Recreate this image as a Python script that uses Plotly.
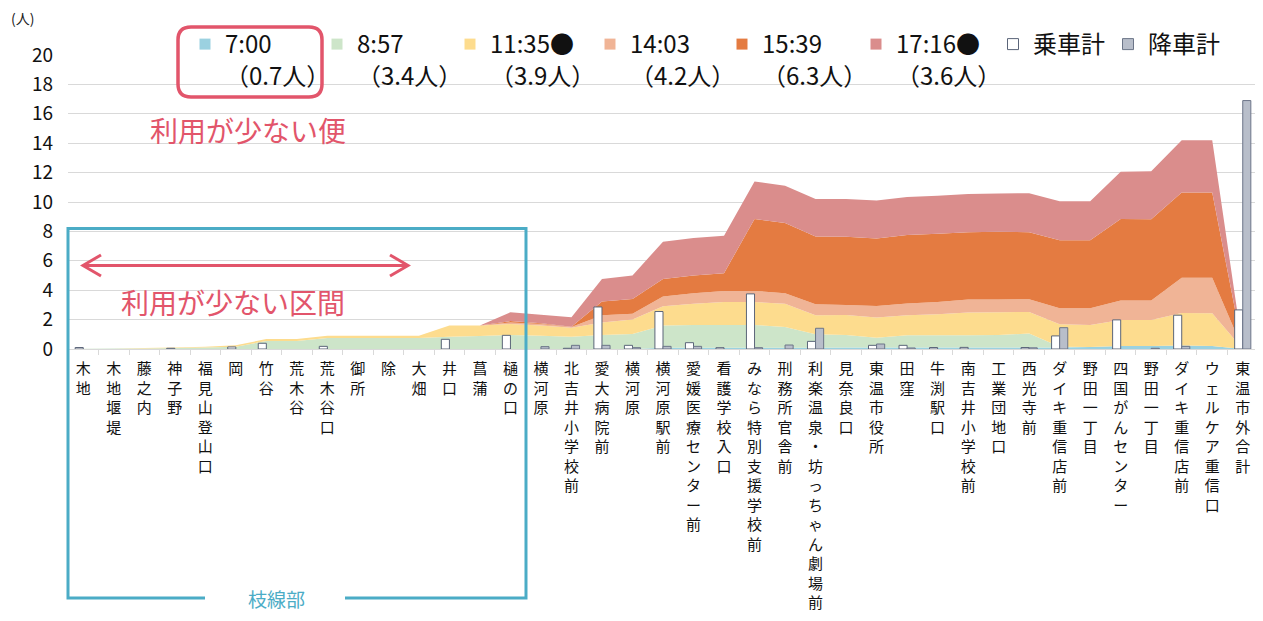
import plotly.graph_objects as go

# ---------------- data ----------------
stops = ["木地", "木地堰堤", "藤之内", "神子野", "福見山登山口", "岡", "竹谷", "荒木谷", "荒木谷口",
         "御所", "除", "大畑", "井口", "菖蒲", "樋の口", "横河原", "北吉井小学校前", "愛大病院前",
         "横河原", "横河原駅前", "愛媛医療センター前", "看護学校入口", "みなら特別支援学校前",
         "刑務所官舎前", "利楽温泉・坊っちゃん劇場前", "見奈良口", "東温市役所", "田窪", "牛渕駅口",
         "南吉井小学校前", "工業団地口", "西光寺前", "ダイキ重信店前", "野田一丁目", "四国がんセンター",
         "野田一丁目", "ダイキ重信店前", "ウェルケア重信口", "東温市外合計"]

series_names = ["7:00<br>（0.7人）", "8:57<br>（3.4人）", "11:35●<br>（3.9人）",
                "14:03<br>（4.2人）", "15:39<br>（6.3人）", "17:16●<br>（3.6人）"]

t0700 = [0, 0, 0, 0, 0, 0, 0, 0, 0, 0, 0, 0, 0, 0, 0, 0, 0, 0, 0,
         0.08, 0.08, 0.08, 0.08, 0.08, 0.08, 0.1, 0.1, 0.1, 0.1, 0.1, 0.1, 0.1,
         0.11, 0.14, 0.2, 0.2, 0.23, 0.2, 0]
t0857 = [0.02, 0.03, 0.04, 0.06, 0.1, 0.15, 0.55, 0.55, 0.75, 0.75, 0.75, 0.75,
         0.84, 0.88, 0.95, 0.9, 0.84, 0.95, 1.02,
         1.52, 1.56, 1.56, 1.56, 1.42, 0.92, 0.85, 0.67, 0.83, 0.83, 0.83, 0.85, 0.95,
         0.05, 0, 0, 0, 0, 0, 0]
t1135 = [0, 0.01, 0.02, 0.04, 0.05, 0.1, 0.13, 0.13, 0.15, 0.15, 0.15, 0.15,
         0.76, 0.72, 0.75, 0.7, 0.61, 0.85, 0.98,
         1.3, 1.43, 1.56, 1.56, 1.57, 1.3, 1.37, 1.37, 1.37, 1.43, 1.55, 1.55, 1.47,
         1.52, 1.5, 1.78, 1.78, 2.22, 2.23, 0]
t1403 = [0, 0, 0, 0, 0, 0, 0, 0, 0, 0, 0, 0, 0, 0,
         0.1, 0.1, 0.05, 0.5, 0.4,
         0.67, 0.73, 0.75, 0.75, 0.73, 0.75, 0.68, 0.79, 0.8, 0.84, 0.88, 0.86, 0.87,
         1.09, 1.13, 1.32, 1.32, 2.39, 2.41, 0]
t1539 = [0, 0, 0, 0, 0, 0, 0, 0, 0, 0, 0, 0, 0, 0,
         0.1, 0.05, 0.02, 0.93, 1.0,
         1.2, 1.2, 1.21, 4.89, 4.77, 4.61, 4.64, 4.59, 4.65, 4.64, 4.59, 4.62, 4.56,
         4.62, 4.62, 5.54, 5.52, 5.8, 5.8, 0]
t1716 = [0, 0, 0, 0, 0, 0, 0, 0, 0, 0, 0, 0, 0, 0,
         0.6, 0.58, 0.64, 1.54, 1.6,
         2.53, 2.55, 2.54, 2.56, 2.53, 2.54, 2.56, 2.58, 2.59, 2.59, 2.6, 2.59, 2.65,
         2.66, 2.66, 3.21, 3.28, 3.56, 3.56, 0]

boarding = [0.1, 0, 0, 0.05, 0, 0.14, 0.39, 0, 0.18, 0, 0, 0, 0.66, 0, 0.93, 0, 0.05,
            2.86, 0.25, 2.55, 0.43, 0.09, 3.75, 0, 0.52, 0, 0.25, 0.25, 0.1, 0.11, 0,
            0.1, 0.89, 0, 1.98, 0, 2.3, 0, 2.66]
alighting = [0, 0, 0, 0, 0, 0, 0, 0, 0, 0, 0, 0, 0, 0, 0, 0.16, 0.25, 0.25, 0.09,
             0.18, 0.18, 0, 0.09, 0.27, 1.41, 0, 0.34, 0.07, 0, 0, 0, 0.08, 1.45, 0,
             0, 0.05, 0.18, 0, 16.9]

y_ticks = [0, 2, 4, 6, 8, 10, 12, 14, 16, 18, 20]

# ---------------- style ----------------
FONT = "Noto Sans CJK JP"
area_colors = ["#9BD1E0", "#CDE5C9", "#FDDC8E", "#F0B496", "#E47B41", "#DA8D8C"]
legend_widths = [87, 88, 95, 87, 89, 92, 70, 80]
RED = "#E2556B"
BLUE = "#4BACC6"
GRID = "#D9D9D9"

# the page body has an 8px margin, so the figure is sized to the remaining window
OFF = 8
FW, FH = 1263 - OFF, 621 - OFF
# plot area in window pixels: x 68..1258, y 55..349
PX0, PX1, PY0, PY1 = 68, 1258, 55, 349
L, R, T, B = PX0 - OFF, FW - (PX1 - OFF), PY0 - OFF, FH - (PY1 - OFF)
PW, PH = PX1 - PX0, PY1 - PY0


def px(x):
    return (x - PX0) / PW


def py(y):
    return (PY1 - y) / PH


xs = list(range(len(stops)))
fig = go.Figure()

# stacked areas
for name, vals, col in zip(series_names, [t0700, t0857, t1135, t1403, t1539, t1716], area_colors):
    fig.add_trace(go.Scatter(x=xs, y=vals, name=name, stackgroup="one", mode="none",
                             fillcolor=col, showlegend=False, hoverinfo="skip"))

# bars (overlay axes so they are drawn on top of the areas)
fig.add_trace(go.Bar(x=xs, y=[v if v else None for v in boarding], name="乗車計",
                     marker=dict(color="white", line=dict(color="#5B6579", width=1)),
                     xaxis="x2", yaxis="y2", showlegend=False))
fig.add_trace(go.Bar(x=xs, y=[v if v else None for v in alighting], name="降車計",
                     marker=dict(color="#B8BECA", line=dict(color="#6C7588", width=1)),
                     xaxis="x2", yaxis="y2", showlegend=False))

# legend entries
for name, col, lw in zip(series_names, area_colors, legend_widths):
    fig.add_trace(go.Scatter(x=[None], y=[None], mode="markers", name=name, legendwidth=lw,
                             marker=dict(symbol="square", size=11, color=col)))
fig.add_trace(go.Scatter(x=[None], y=[None], mode="markers", name="乗車計",
                         legendwidth=legend_widths[6],
                         marker=dict(symbol="square", size=11, color="white",
                                     line=dict(color="#5B6579", width=1))))
fig.add_trace(go.Scatter(x=[None], y=[None], mode="markers", name="降車計",
                         legendwidth=legend_widths[7],
                         marker=dict(symbol="square", size=11, color="#B8BECA",
                                     line=dict(color="#6C7588", width=1))))

ticktext = ["<br>".join(list(s)) for s in stops]


def rrect(x0, y0, x1, y1, r):
    pts = [
        ("M", [(x0 + r, y0)]), ("L", [(x1 - r, y0)]), ("Q", [(x1, y0), (x1, y0 + r)]),
        ("L", [(x1, y1 - r)]), ("Q", [(x1, y1), (x1 - r, y1)]), ("L", [(x0 + r, y1)]),
        ("Q", [(x0, y1), (x0, y1 - r)]), ("L", [(x0, y0 + r)]), ("Q", [(x0, y0), (x0 + r, y0)]),
    ]
    s = ""
    for cmd, ps in pts:
        s += cmd + " " + " ".join(f"{px(a):.5f},{py(b):.5f}" for a, b in ps) + " "
    return s + "Z"


def poly(points):
    return "M " + " L ".join(f"{px(a):.5f},{py(b):.5f}" for a, b in points)


shapes = [
    dict(type="path", xref="paper", yref="paper", path=rrect(178, 27, 322, 97, 13),
         line=dict(color=RED, width=3.5)),
    dict(type="path", xref="paper", yref="paper",
         path=poly([(205, 598), (68, 598), (68, 228.5), (526, 228.5), (526, 598), (345, 598)]),
         line=dict(color=BLUE, width=3)),
    dict(type="path", xref="paper", yref="paper", path=poly([(83, 265.5), (408, 265.5)]),
         line=dict(color=RED, width=3)),
    dict(type="path", xref="paper", yref="paper", path=poly([(101, 255), (83, 265.5), (101, 276)]),
         line=dict(color=RED, width=3)),
    dict(type="path", xref="paper", yref="paper", path=poly([(390, 255), (408, 265.5), (390, 276)]),
         line=dict(color=RED, width=3)),
]

annotations = [
    dict(text="利用が少ない便", x=px(248), y=py(130), xanchor="center",
         font=dict(size=28, color=RED, family=FONT)),
    dict(text="利用が少ない区間", x=px(233), y=py(302), xanchor="center",
         font=dict(size=28, color=RED, family=FONT)),
    dict(text="枝線部", x=px(276), y=py(598), xanchor="center",
         font=dict(size=19, color=BLUE, family=FONT)),
    dict(text="(人)", x=px(9), y=py(18), xanchor="left",
         font=dict(size=14, color="#222", family=FONT)),
]
for a in annotations:
    a.update(xref="paper", yref="paper", showarrow=False, yanchor="middle")

fig.update_layout(
    width=FW, height=FH,
    margin=dict(l=L, r=R, t=T, b=B, autoexpand=False),
    paper_bgcolor="white", plot_bgcolor="white",
    font=dict(family=FONT, color="#111"),
    barmode="group", bargap=0.47, bargroupgap=0,
    xaxis=dict(range=[-0.5, len(stops) - 0.5], tickvals=xs, ticktext=ticktext,
               tickangle=0, tickfont=dict(size=15, family=FONT, color="#111"),
               showgrid=False, zeroline=False, showline=True, linecolor=GRID, linewidth=1,
               ticks="", ticklabelstandoff=6,
               minor=dict(tickvals=[i - 0.5 for i in range(len(stops) + 1)], ticks="outside",
                          ticklen=5, tickcolor=GRID, showgrid=False)),
    yaxis=dict(range=[0, 20], tickvals=y_ticks, showgrid=True, gridcolor=GRID, gridwidth=1,
               zeroline=False, showline=False, ticks="", ticklabelstandoff=14,
               tickfont=dict(size=19, family=FONT, color="#111")),
    xaxis2=dict(overlaying="x", range=[-0.5, len(stops) - 0.5], visible=False),
    yaxis2=dict(overlaying="y", range=[0, 20], visible=False),
    legend=dict(orientation="h", x=px(185), y=py(22), xanchor="left", yanchor="top",
                entrywidthmode="pixels", valign="top",
                font=dict(size=24, family=FONT, color="#111"), bgcolor="rgba(0,0,0,0)",
                traceorder="normal", itemclick=False, itemdoubleclick=False),
    shapes=shapes, annotations=annotations,
)

fig.write_html("out.html")
